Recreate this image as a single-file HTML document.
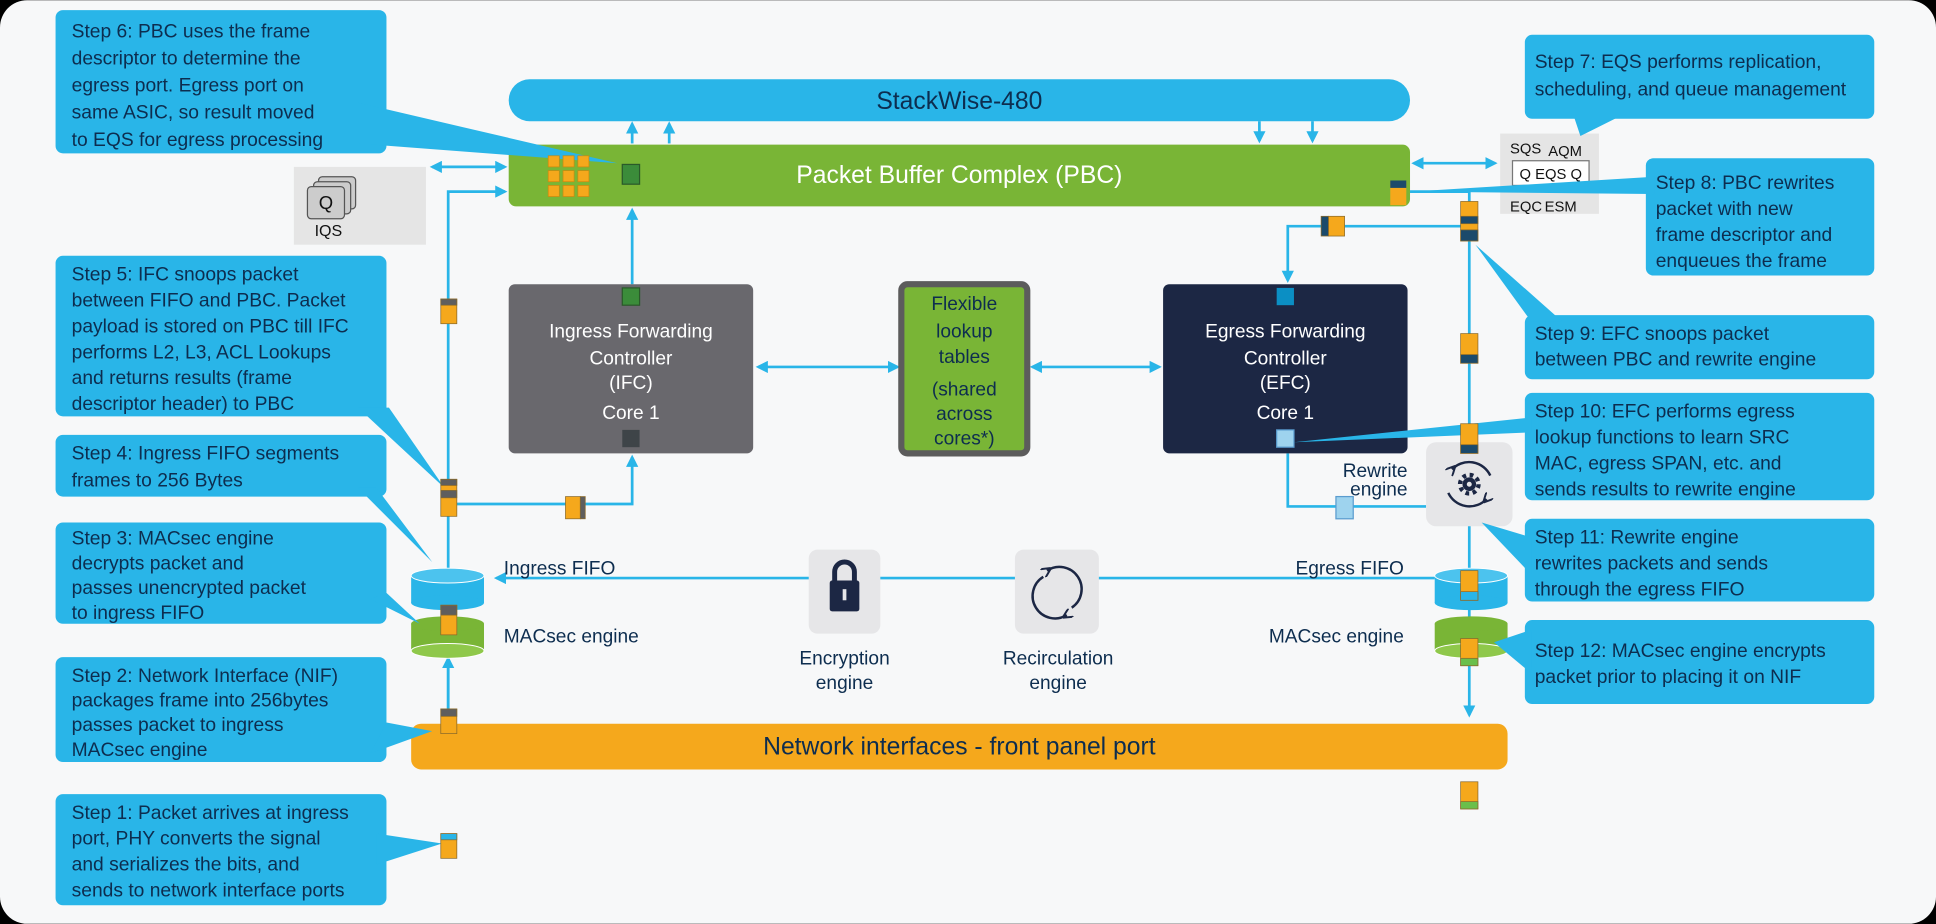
<!DOCTYPE html>
<html><head><meta charset="utf-8"><style>
html,body{margin:0;padding:0;background:#000;}
svg{display:block;}
text{font-family:"Liberation Sans",sans-serif;}
.c{fill:#29b5e8;}
.ct{fill:#0d2d4f;font-size:15.6px;}
.ln{stroke:#29b5e8;stroke-width:2.2;fill:none;}
.lbl{fill:#0d2d4f;font-size:15.5px;}
</style></head><body>
<svg width="1936" height="924" viewBox="0 0 1568 748" xmlns="http://www.w3.org/2000/svg">
<defs>
<marker id="a" viewBox="0 0 10 10" refX="8" refY="5" markerWidth="4.5" markerHeight="4.5" orient="auto-start-reverse"><path d="M0,0L10,5L0,10z" fill="#29b5e8"/></marker>
<marker id="d" viewBox="0 0 10 10" refX="5" refY="5" markerWidth="4" markerHeight="4" orient="auto"><path d="M0,0L10,5L0,10" fill="none" stroke="#1c2744" stroke-width="2"/></marker>
</defs>
<rect x="0" y="0" width="1568" height="748" fill="#000"/>
<rect x="0" y="0" width="1568" height="748" rx="22" fill="#f7f8f9"/>

<!-- connectors -->
<g class="ln">
<line x1="512" y1="116" x2="512" y2="100" marker-end="url(#a)"/>
<line x1="542" y1="116" x2="542" y2="100" marker-end="url(#a)"/>
<line x1="1020" y1="98" x2="1020" y2="114" marker-end="url(#a)"/>
<line x1="1063" y1="98" x2="1063" y2="114" marker-end="url(#a)"/>
<line x1="350" y1="135" x2="409" y2="135" marker-start="url(#a)" marker-end="url(#a)"/>
<polyline points="363,585 363,155 409,155" marker-end="url(#a)"/>
<line x1="512" y1="230" x2="512" y2="170" marker-end="url(#a)"/>
<polyline points="363,408 512,408 512,370" marker-end="url(#a)"/>
<line x1="614" y1="297" x2="727" y2="297" marker-start="url(#a)" marker-end="url(#a)"/>
<line x1="836" y1="297" x2="939" y2="297" marker-start="url(#a)" marker-end="url(#a)"/>
<line x1="1145" y1="132" x2="1211" y2="132" marker-start="url(#a)" marker-end="url(#a)"/>
<polyline points="1142,155 1190,155 1190,579" marker-end="url(#a)"/>
<polyline points="1190,183 1043,183 1043,227" marker-end="url(#a)"/>
<polyline points="1043,367 1043,410 1155,410"/>
<line x1="1162" y1="468" x2="402" y2="468" marker-end="url(#a)"/>
<line x1="363" y1="580" x2="363" y2="533" marker-end="url(#a)"/>
</g>

<!-- StackWise -->
<rect x="412" y="64" width="730" height="34" rx="17" fill="#29b5e8"/>
<text x="777" y="88" text-anchor="middle" font-size="20" fill="#0d2d4f">StackWise-480</text>

<!-- PBC -->
<rect x="412" y="117" width="730" height="50" rx="6" fill="#79b536"/>
<text x="777" y="148" text-anchor="middle" font-size="20" fill="#fff">Packet Buffer Complex (PBC)</text>
<rect x="1126" y="146" width="13" height="20" fill="#f5a81c"/><rect x="1126" y="146" width="13" height="6" fill="#1b4a6b"/>

<!-- IQS -->
<rect x="238" y="135" width="107" height="63" fill="#e5e5e5"/>
<rect x="258" y="143" width="30" height="26" rx="3" fill="#ccc" stroke="#555"/>
<rect x="254" y="147" width="30" height="26" rx="3" fill="#ccc" stroke="#555"/>
<rect x="249" y="151" width="30" height="26" rx="3" fill="#ccc" stroke="#555"/>
<text x="264" y="169" text-anchor="middle" font-size="15" fill="#111">Q</text>
<text x="266" y="191" text-anchor="middle" font-size="13" fill="#111">IQS</text>

<!-- EQS -->
<rect x="1215" y="108" width="80" height="65" fill="#e5e5e5"/>
<text x="1223" y="124" font-size="12" fill="#111">SQS</text>
<text x="1254" y="126" font-size="12" fill="#111">AQM</text>
<rect x="1225" y="130" width="62" height="20" fill="#fff" stroke="#777"/>
<text x="1256" y="145" text-anchor="middle" font-size="12" fill="#111">Q EQS Q</text>
<text x="1223" y="171" font-size="12" fill="#111">EQC</text>
<text x="1251" y="171" font-size="12" fill="#111">ESM</text>

<!-- IFC -->
<rect x="412" y="230" width="198" height="137" rx="5" fill="#69686d"/>
<rect x="504" y="233" width="14" height="14" fill="#3b8c3a" stroke="#2a5a2a"/>
<text fill="#fff" font-size="15.5" text-anchor="middle"><tspan x="511" y="273">Ingress Forwarding</tspan><tspan x="511" y="295">Controller</tspan><tspan x="511" y="315">(IFC)</tspan><tspan x="511" y="339">Core 1</tspan></text>
<rect x="504" y="348" width="14" height="14" fill="#3e4448"/>

<!-- Flexible -->
<rect x="730" y="230" width="102" height="137" rx="5" fill="#79b536" stroke="#5c5c5c" stroke-width="5"/>
<text fill="#0d2d4f" font-size="15.5" text-anchor="middle"><tspan x="781" y="251">Flexible</tspan><tspan x="781" y="273">lookup</tspan><tspan x="781" y="294">tables</tspan><tspan x="781" y="320">(shared</tspan><tspan x="781" y="340">across</tspan><tspan x="781" y="360">cores*)</tspan></text>

<!-- EFC -->
<rect x="942" y="230" width="198" height="137" rx="5" fill="#1c2744"/>
<rect x="1034" y="233" width="14" height="14" fill="#0b8fc4"/>
<text fill="#fff" font-size="15.5" text-anchor="middle"><tspan x="1041" y="273">Egress Forwarding</tspan><tspan x="1041" y="295">Controller</tspan><tspan x="1041" y="315">(EFC)</tspan><tspan x="1041" y="339">Core 1</tspan></text>
<rect x="1034" y="348" width="14" height="14" fill="#9ed3ee" stroke="#5a9ccf"/>

<!-- Rewrite -->
<text class="lbl" text-anchor="end"><tspan x="1140" y="386">Rewrite</tspan><tspan x="1140" y="401">engine</tspan></text>
<rect x="1082" y="402" width="14" height="18" fill="#9ed3ee" stroke="#5a9ccf"/>
<rect x="1155" y="358" width="70" height="68" rx="8" fill="#e6e6e8"/>
<circle cx="1190" cy="392" r="5.5" fill="#1c2744"/>
<circle cx="1190" cy="392" r="7.5" fill="none" stroke="#1c2744" stroke-width="3.5" stroke-dasharray="3 2.9"/>
<circle cx="1190" cy="392" r="2" fill="#e6e6e8"/>
<path d="M1176,380 A19,19 0 0 1 1207,385" fill="none" stroke="#1c2744" stroke-width="2" marker-start="url(#d)"/>
<path d="M1204,404 A19,19 0 0 1 1173,399" fill="none" stroke="#1c2744" stroke-width="2" marker-start="url(#d)"/>

<!-- Cylinders -->
<g>
<rect x="333" y="466" width="59" height="22" fill="#29b5e8"/><ellipse cx="362.5" cy="488" rx="29.5" ry="6" fill="#29b5e8"/><ellipse cx="362.5" cy="466" rx="29.5" ry="6" fill="#4cc3ee" stroke="#fff" stroke-width="0.8"/>
<rect x="333" y="505" width="59" height="22" fill="#79b536"/><ellipse cx="362.5" cy="527" rx="29.5" ry="6" fill="#8fc84b" stroke="#fff" stroke-width="0.8"/><ellipse cx="362.5" cy="505" rx="29.5" ry="6" fill="#79b536"/>
<rect x="1162" y="466" width="59" height="22" fill="#29b5e8"/><ellipse cx="1191.5" cy="488" rx="29.5" ry="6" fill="#29b5e8"/><ellipse cx="1191.5" cy="466" rx="29.5" ry="6" fill="#4cc3ee" stroke="#fff" stroke-width="0.8"/>
<rect x="1162" y="505" width="59" height="22" fill="#79b536"/><ellipse cx="1191.5" cy="527" rx="29.5" ry="6" fill="#8fc84b" stroke="#fff" stroke-width="0.8"/><ellipse cx="1191.5" cy="505" rx="29.5" ry="6" fill="#79b536"/>
</g>
<text class="lbl" x="408" y="465">Ingress FIFO</text>
<text class="lbl" x="408" y="520">MACsec engine</text>
<text class="lbl" x="1137" y="465" text-anchor="end">Egress FIFO</text>
<text class="lbl" x="1137" y="520" text-anchor="end">MACsec engine</text>

<!-- Encryption / recirc -->
<rect x="655" y="445" width="58" height="68" rx="7" fill="#e6e6e8"/>
<path d="M676,470 v-7 a8,8 0 0 1 16,0 v7" fill="none" stroke="#1c2744" stroke-width="4"/>
<rect x="672" y="470" width="24" height="25" rx="2" fill="#1c2744"/>
<rect x="682.5" y="477" width="3" height="9" fill="#e6e6e8"/>
<text class="lbl" text-anchor="middle"><tspan x="684" y="538">Encryption</tspan><tspan x="684" y="558">engine</tspan></text>
<rect x="822" y="445" width="68" height="68" rx="7" fill="#e6e6e8"/>
<path d="M848,462 A18,18 0 0 1 868,492" fill="none" stroke="#1c2744" stroke-width="2" marker-start="url(#d)"/>
<path d="M864,498 A18,18 0 0 1 845,467" fill="none" stroke="#1c2744" stroke-width="2" marker-start="url(#d)"/>
<text class="lbl" text-anchor="middle"><tspan x="857" y="538">Recirculation</tspan><tspan x="857" y="558">engine</tspan></text>

<!-- NIF -->
<rect x="333" y="586" width="888" height="37" rx="8" fill="#f5a81c"/>
<text x="777" y="611" text-anchor="middle" font-size="20" fill="#0d2d4f">Network interfaces - front panel port</text>

<!-- callouts -->
<g class="c">
<rect x="45" y="8" width="268" height="116" rx="6"/><polygon points="290,83 290,116 500,132"/>
<rect x="45" y="207" width="268" height="130" rx="6"/><polygon points="290,330 315,330 360,395"/>
<rect x="45" y="352" width="268" height="50" rx="6"/><polygon points="290,395 305,395 350,455"/>
<rect x="45" y="423" width="268" height="82" rx="6"/><polygon points="300,485 313,480 340,505"/>
<rect x="45" y="532" width="268" height="85" rx="6"/><polygon points="300,610 313,585 350,592"/>
<rect x="45" y="643" width="268" height="90" rx="6"/><polygon points="305,675 305,700 358,683"/>
<rect x="1235" y="28" width="283" height="68" rx="6"/><polygon points="1275,95 1310,95 1280,110"/>
<rect x="1333" y="128" width="185" height="95" rx="6"/><polygon points="1340,143 1340,157 1143,155"/>
<rect x="1235" y="255" width="283" height="52" rx="6"/><polygon points="1240,260 1265,260 1195,198"/>
<rect x="1235" y="318" width="283" height="87" rx="6"/><polygon points="1240,338 1240,350 1048,358"/>
<rect x="1235" y="420" width="283" height="67" rx="6"/><polygon points="1240,435 1240,465 1200,423"/>
<rect x="1235" y="502" width="283" height="68" rx="6"/><polygon points="1240,510 1240,545 1210,520"/>
</g>

<!-- PBC grid on top -->
<g fill="#f5a81c" stroke="#c98a10" stroke-width="0.6">
<rect x="444" y="126" width="9" height="9"/><rect x="456" y="126" width="9" height="9"/><rect x="468" y="126" width="9" height="9"/>
<rect x="444" y="138" width="9" height="9"/><rect x="456" y="138" width="9" height="9"/><rect x="468" y="138" width="9" height="9"/>
<rect x="444" y="150" width="9" height="9"/><rect x="456" y="150" width="9" height="9"/><rect x="468" y="150" width="9" height="9"/>
</g>
<rect x="504" y="133" width="14" height="16" fill="#3b8c3a" stroke="#2a5a2a"/>

<!-- packets -->
<g stroke="#8a6a2a" stroke-width="0.6">
<rect x="357" y="242" width="13" height="20" fill="#f5a81c"/><rect x="357" y="242" width="13" height="5" fill="#5e5e5e"/>
<rect x="357" y="388" width="13" height="30" fill="#f5a81c"/><rect x="357" y="388" width="13" height="5" fill="#5e5e5e"/><rect x="357" y="397" width="13" height="6" fill="#5e5e5e"/>
<rect x="458" y="402" width="12" height="18" fill="#f5a81c"/><rect x="470" y="402" width="4" height="18" fill="#5e5e5e"/>
<rect x="357" y="490" width="13" height="24" fill="#f5a81c"/><rect x="357" y="490" width="13" height="8" fill="#5e5e5e"/>
<rect x="357" y="574" width="13" height="20" fill="#f5a81c"/><rect x="357" y="574" width="13" height="6" fill="#5e5e5e"/>
<rect x="357" y="675" width="13" height="20" fill="#f5a81c"/><rect x="357" y="675" width="13" height="5" fill="#29b5e8"/>
<rect x="1070" y="175" width="6" height="16" fill="#1b4a6b"/><rect x="1076" y="175" width="13" height="16" fill="#f5a81c"/>
<rect x="1183" y="163" width="14" height="32" fill="#f5a81c"/><rect x="1183" y="175" width="14" height="6" fill="#1b4a6b"/><rect x="1183" y="186" width="14" height="9" fill="#1b4a6b"/>
<rect x="1183" y="270" width="14" height="24" fill="#f5a81c"/><rect x="1183" y="287" width="14" height="7" fill="#1b4a6b"/>
<rect x="1183" y="343" width="14" height="24" fill="#f5a81c"/><rect x="1183" y="360" width="14" height="7" fill="#1b4a6b"/>
<rect x="1183" y="462" width="14" height="24" fill="#f5a81c"/><rect x="1183" y="479" width="14" height="7" fill="#29b5e8"/>
<rect x="1183" y="517" width="14" height="22" fill="#f5a81c"/><rect x="1183" y="533" width="14" height="6" fill="#6abf4b"/>
<rect x="1183" y="633" width="14" height="22" fill="#f5a81c"/><rect x="1183" y="649" width="14" height="6" fill="#6abf4b"/>
</g>

<text class="ct"><tspan x="58" y="30">Step 6: PBC uses the frame</tspan><tspan x="58" y="52">descriptor to determine the</tspan><tspan x="58" y="74">egress port. Egress port on</tspan><tspan x="58" y="96">same ASIC, so result moved</tspan><tspan x="58" y="118">to EQS for egress processing</tspan></text>
<text class="ct"><tspan x="58" y="227">Step 5: IFC snoops packet</tspan><tspan x="58" y="248">between FIFO and PBC. Packet</tspan><tspan x="58" y="269">payload is stored on PBC till IFC</tspan><tspan x="58" y="290">performs L2, L3, ACL Lookups</tspan><tspan x="58" y="311">and returns results (frame</tspan><tspan x="58" y="332">descriptor header) to PBC</tspan></text>
<text class="ct"><tspan x="58" y="372">Step 4: Ingress FIFO segments</tspan><tspan x="58" y="394">frames to 256 Bytes</tspan></text>
<text class="ct"><tspan x="58" y="441">Step 3: MACsec engine</tspan><tspan x="58" y="461">decrypts packet and</tspan><tspan x="58" y="481">passes unencrypted packet</tspan><tspan x="58" y="501">to ingress FIFO</tspan></text>
<text class="ct"><tspan x="58" y="552">Step 2: Network Interface (NIF)</tspan><tspan x="58" y="572">packages frame into 256bytes</tspan><tspan x="58" y="592">passes packet to ingress</tspan><tspan x="58" y="612">MACsec engine</tspan></text>
<text class="ct"><tspan x="58" y="663">Step 1: Packet arrives at ingress</tspan><tspan x="58" y="684">port, PHY converts the signal</tspan><tspan x="58" y="705">and serializes the bits, and</tspan><tspan x="58" y="726">sends to network interface ports</tspan></text>
<text class="ct"><tspan x="1243" y="55">Step 7: EQS performs replication,</tspan><tspan x="1243" y="77">scheduling, and queue management</tspan></text>
<text class="ct"><tspan x="1341" y="153">Step 8: PBC rewrites</tspan><tspan x="1341" y="174">packet with new</tspan><tspan x="1341" y="195">frame descriptor and</tspan><tspan x="1341" y="216">enqueues the frame</tspan></text>
<text class="ct"><tspan x="1243" y="275">Step 9: EFC snoops packet</tspan><tspan x="1243" y="296">between PBC and rewrite engine</tspan></text>
<text class="ct"><tspan x="1243" y="338">Step 10: EFC performs egress</tspan><tspan x="1243" y="359">lookup functions to learn SRC</tspan><tspan x="1243" y="380">MAC, egress SPAN, etc. and</tspan><tspan x="1243" y="401">sends results to rewrite engine</tspan></text>
<text class="ct"><tspan x="1243" y="440">Step 11: Rewrite engine</tspan><tspan x="1243" y="461">rewrites packets and sends</tspan><tspan x="1243" y="482">through the egress FIFO</tspan></text>
<text class="ct"><tspan x="1243" y="532">Step 12: MACsec engine encrypts</tspan><tspan x="1243" y="553">packet prior to placing it on NIF</tspan></text>
</svg>
</body></html>
